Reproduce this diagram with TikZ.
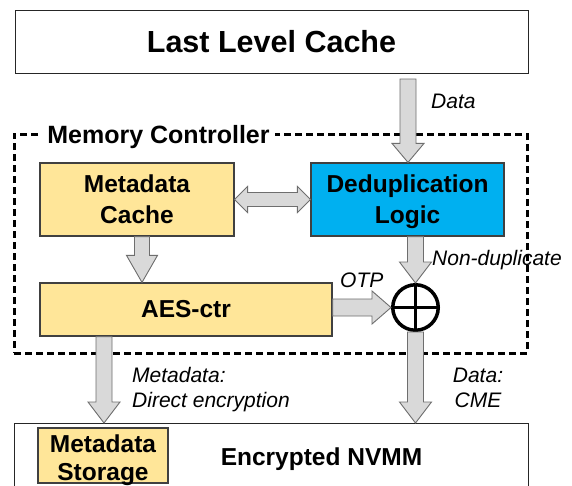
\documentclass[tikz,border=0pt]{standalone}
\usepackage{fontspec}
\setmainfont{Liberation Sans}
\usetikzlibrary{calc}
\definecolor{boxyellow}{HTML}{FFE699}
\definecolor{boxblue}{HTML}{00B0F0}
\definecolor{boxline}{HTML}{404040}
\definecolor{arrowfill}{HTML}{D9D9D9}
\definecolor{arrowline}{HTML}{6E6E6E}
\tikzset{
  plainbox/.style={draw=boxline, line width=1.2pt, inner sep=0pt, rectangle},
  ybox/.style={plainbox, fill=boxyellow},
  bbox/.style={plainbox, fill=boxblue},
  boxtext/.style={font=\fontsize{24.5}{30.5}\selectfont\bfseries, align=center, inner sep=0pt},
  lbl/.style={font=\fontsize{21}{25}\selectfont\itshape, inner sep=0pt},
  blk/.style={fill=arrowfill, draw=arrowline, line width=0.9pt, line join=miter},
}
% #1 start, #2 tip, #3 shaft half width, #4 head half width, #5 head length
\newcommand\blkdown[5]{%
  \draw[blk] let \p1=(#1), \p2=(#2) in
    (\x2-#3pt,\y1) -- (\x2+#3pt,\y1) -- (\x2+#3pt,\y2+#5pt) -- (\x2+#4pt,\y2+#5pt)
    -- (\x2,\y2) -- (\x2-#4pt,\y2+#5pt) -- (\x2-#3pt,\y2+#5pt) -- cycle;}
\newcommand\blkright[5]{%
  \draw[blk] let \p1=(#1), \p2=(#2) in
    (\x1,\y2+#3pt) -- (\x2-#5pt,\y2+#3pt) -- (\x2-#5pt,\y2+#4pt) -- (\x2,\y2)
    -- (\x2-#5pt,\y2-#4pt) -- (\x2-#5pt,\y2-#3pt) -- (\x1,\y2-#3pt) -- cycle;}
\newcommand\blkboth[5]{%
  \draw[blk] let \p1=(#1), \p2=(#2) in
    (\x1,\y1) -- (\x1+#5pt,\y1+#4pt) -- (\x1+#5pt,\y1+#3pt) -- (\x2-#5pt,\y1+#3pt)
    -- (\x2-#5pt,\y1+#4pt) -- (\x2,\y1) -- (\x2-#5pt,\y1-#4pt) -- (\x2-#5pt,\y1-#3pt)
    -- (\x1+#5pt,\y1-#3pt) -- (\x1+#5pt,\y1-#4pt) -- cycle;}

\begin{document}
\begin{tikzpicture}[x=1pt, y=-1pt]
\useasboundingbox (0,0) rectangle (572,485);
\fill[white] (0,0) rectangle (572,485);
\clip (0,0) rectangle (572,485);

% Last level cache
\node[plainbox, draw=black!85, line width=1pt, minimum width=513pt, minimum height=63pt,
      font=\fontsize{30.5}{36}\selectfont\bfseries] (llc) at (271.5,41.5) {Last Level Cache};

% Memory controller
\node[draw=black, line width=3pt, dash pattern=on 7pt off 4pt, inner sep=0pt,
      minimum width=513pt, minimum height=219pt] (mc) at (270.5,243.5) {};
\node[fill=white, font=\fontsize{25}{30}\selectfont\bfseries, inner xsep=5pt, inner ysep=1pt,
      anchor=base] (mctitle) at (158.5,143) {Memory Controller};

\node[ybox, minimum width=194pt, minimum height=73pt] (mcache) at (137,199.5) {};
\node[boxtext, anchor=north] (mcachetxt) at (137,175) {Metadata\\Cache};

\node[bbox, minimum width=193pt, minimum height=73pt] (dedup) at (407.5,199.5) {};
\node[boxtext, anchor=north] (deduptxt) at (407.5,175) {Deduplication\\Logic};

\node[ybox, minimum width=292pt, minimum height=53pt, font=\fontsize{24.5}{30}\selectfont\bfseries]
      (aes) at (186,309.5) {AES-ctr};

\node[circle, draw=black, fill=white, line width=3.5pt, minimum size=45.5pt, inner sep=0pt]
      (xor) at (415.5,307.5) {};
\draw[line width=3.5pt] (xor.north) -- (xor.south);
\draw[line width=3.5pt] (xor.west) -- (xor.east);

% Encrypted NVMM
\node[plainbox, draw=black!85, line width=1pt, minimum width=514pt, minimum height=120pt,
      anchor=north] (nvmm) at (271,423) {};
\node[boxtext, anchor=base] (nvmmtxt) at (321.5,465) {Encrypted NVMM};
\node[ybox, minimum width=130pt, minimum height=55pt] (mstore) at (103,455.5) {};
\node[boxtext, font=\fontsize{24.5}{28}\selectfont\bfseries, anchor=north] (mstoretxt) at (103,435) {Metadata\\Storage};

% arrows
\coordinate (dataS) at (408,79);
\blkdown{dataS}{dataS |- dedup.north}{8}{16}{19}
\blkboth{mcache.east}{dedup.west}{7}{13}{13}
\coordinate (mcS) at (142,236.6);
\blkdown{mcS}{mcS |- aes.north}{7.5}{15.5}{27}
\blkdown{xor.north |- dedup.south}{xor.north}{8}{16}{21}
\blkright{aes.east}{xor.west}{8.5}{16.5}{19}
\blkdown{xor.south}{xor.south |- nvmm.north}{8}{16}{21}
\coordinate (aesS) at (104,336.6);
\blkdown{aesS}{aesS |- nvmm.north}{8}{16}{21}

% labels
\node[lbl, anchor=base west] (ldata) at (431,108) {Data};
\node[lbl, anchor=base west] (lnondup) at (432,265) {Non-duplicate};
\node[lbl, anchor=base west] (lotp) at (340,287) {OTP};
\node[lbl, anchor=base west] (lmeta1) at (132,382) {Metadata:};
\node[lbl, anchor=base west] (lmeta2) at (132,407) {Direct encryption};
\node[lbl, anchor=base] (lcme1) at (478,382) {Data:};
\node[lbl, anchor=base] (lcme2) at (478,407) {CME};
\end{tikzpicture}
\end{document}
